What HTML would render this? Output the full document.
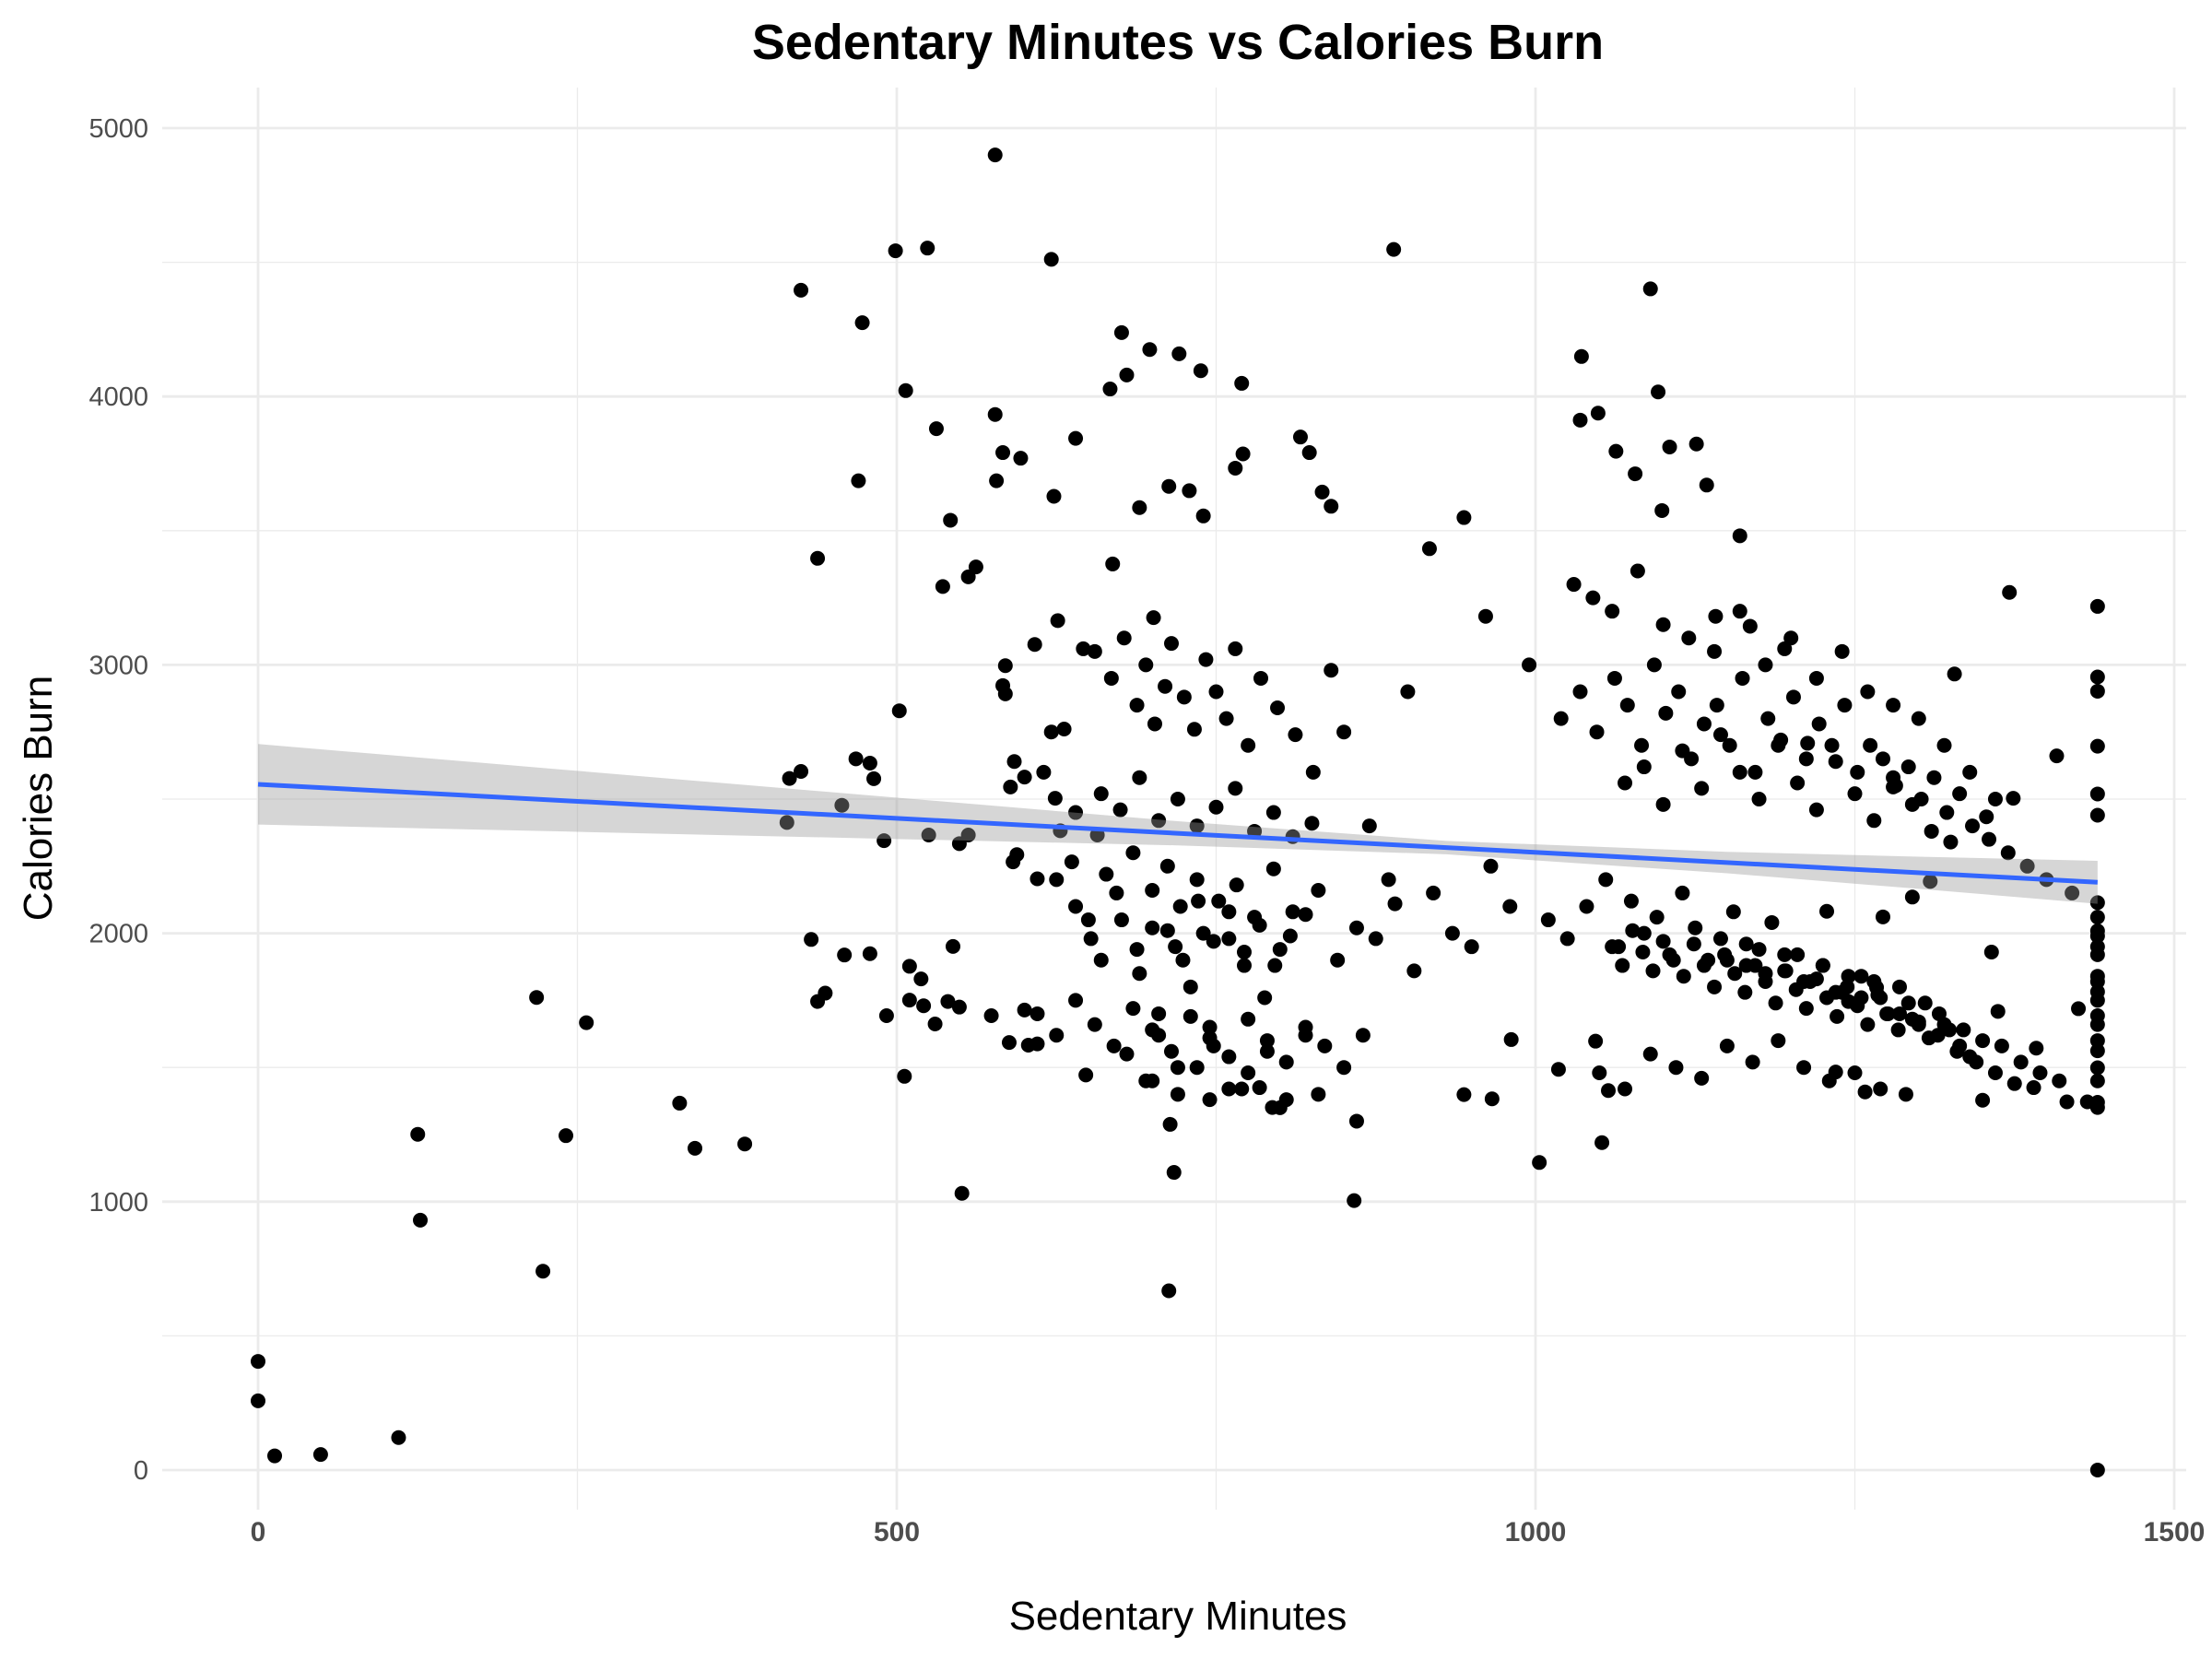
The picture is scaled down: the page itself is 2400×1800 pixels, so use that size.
<!DOCTYPE html>
<html><head><meta charset="utf-8">
<style>
html,body{margin:0;padding:0;background:#fff;}
svg{display:block;font-family:"Liberation Sans",sans-serif;}
</style></head>
<body>
<svg id="chart" width="2400" height="1800" viewBox="0 0 2400 1800">
<rect width="2400" height="1800" fill="#fff"/>
<g id="grid"></g>
<g id="pts"></g>
<g id="band"></g>
<g id="fit"></g>
<g id="ticks"></g>
<text x="1278" y="64" text-anchor="middle" font-size="54" font-weight="bold" fill="#000">Sedentary Minutes vs Calories Burn</text>
<text x="1278" y="1768" text-anchor="middle" font-size="44" fill="#000">Sedentary Minutes</text>
<text transform="translate(56,866) rotate(-90)" text-anchor="middle" font-size="44" fill="#000">Calories Burn</text>
</svg>
<script>
const xTicks=[0,500,1000,1500];
const xMinor=[250,750,1250];
const yTicks=[0,1000,2000,3000,4000,5000];
const yMinor=[500,1500,2500,3500,4500];
const fitX=[0,1440];
const fitY=[2555,2190];
const bandX=[0,240,480,720,930,1150,1300,1440];
const bandHalf=[150,115,80,45,25,40,60,80];
const sedentary=[0,0,13,49,110,125,127,218,223,241,257,330,342,381,414,416,425,425,433,438,438,444,457,459,470,473,468,479,479,482,490,492,499,502,507,506,510,510,519,521,524,525,530,531,536,540,542,544,549,549,551,556,556,562,574,577,577,578,583,583,585,585,588,589,591,594,592,597,600,600,603,608,610,610,621,623,621,624,626,628,631,637,640,646,648,657,669,676,680,667,690,698,701,721,738,740,729,713,770,771,765,717,713,714,784,794,816,823,833,840,858,889,917,944,961,1003,1052,1057,1047,1018,981,966,944,1036,1049,1035,1090,1096,1134,1126,1105,1063,1078,1099,1160,1371,1440,1440,1440,1440,1440,1440,1440,1440,1440,1440,1440,1440,1440,1440,1440,1432,1425,1416,1408,1392,1390,1374,1362,1357,1353,1350,1328,1309,1295,1280,1272,1267,1245,1258,1235,1228,1213,1195,1168,1141,
650,660,672,685,690,700,705,712,718,722,730,735,740,745,752,760,766,772,780,788,795,800,810,820,830,845,860,875,890,905,
655,668,678,688,695,702,710,715,725,733,742,750,758,765,775,785,798,812,826,840,
680,695,705,720,735,748,760,775,790,805,
1010,1025,1040,1055,1065,1075,1085,1095,1105,1115,1125,1135,1145,1155,1165,1175,1185,1195,1205,1215,1225,1235,1245,1255,1265,1275,1285,1295,1305,1320,1335,1350,1365,1380,1395,1410,
1020,1035,1048,1062,1072,1083,1093,1102,1112,1122,1132,1142,1152,1162,1172,1182,1192,1202,1212,1222,1232,1242,1252,1262,1272,1282,1292,1302,1312,1322,1332,1342,1355,1370,1385,1400,1420,
1030,1045,1060,1080,1100,1120,1140,1160,1180,1200,1220,1240,1260,1280,1300,1320,1340,1360,
1050,1070,1090,1110,1130,1150,1170,1190,1210,1230,1250,1270,1290,
920,935,950,965,980,995,870,885,900,850,
700,720,745,770,800,830,860,640,625,615,
1440,1440,1440,1440,1440,1440,1440,1440,1440,1440,
1060,1068,1076,1084,1092,1100,1108,1116,1124,1132,1140,1148,1156,1164,1172,1180,1188,1196,1204,1212,1220,1228,1236,1244,1252,1260,1268,1276,1284,1292,1300,1308,1316,1324,1332,1340,
1070,1085,1100,1115,1130,1145,1160,1175,1190,1205,1220,1235,1250,1265,1280,1295,1310,1325,
1150,1165,1180,1195,1210,1225,1240,1255,1270,1285,1300,1315,1330,1345,1360,1375,
640,652,664,676,688,700,712,724,736,748,760,772,784,796,808,820,
660,675,690,705,720,735,750,765,780,795,810,825,
610,625,640,655,670,685,700,715,730,745,760,775,790,805,820,835,850,865];
const calories=[405,258,53,58,121,1251,931,1761,741,1246,1667,1367,1199,1215,2413,2577,2603,4396,1977,1746,3397,1777,2477,1919,3686,4275,2650,2634,1924,2576,2345,1693,4543,2829,4022,1467,1877,1751,1830,1730,4553,2366,1662,3880,3292,1746,3539,1951,2334,1725,1031,3328,2366,3365,1693,4900,3933,3686,3791,2923,2997,2892,1593,2545,2266,2293,2640,3770,2582,1714,1583,3076,2203,1588,4511,3628,2750,2503,3165,2382,2761,2266,3844,3060,1472,2366,3376,4238,4080,4028,3586,4175,3176,4159,4096,3555,3649,3665,4049,3786,3733,1109,668,1288,1425,1351,3849,3791,3644,3591,1004,4548,3433,3549,3181,1146,1220,1414,1598,1493,1604,1383,1399,4149,3938,3912,4401,4017,3670,3823,3812,3796,3712,3575,3481,3270,3218,2955,2902,2697,2519,2440,2114,2009,1840,1782,1693,1562,1499,1351,0,1372,1719,1372,2661,1572,1425,2503,1709,1930,2434,1378,2966,2193,2135,2545,2061,1798,1746,1409,1483,2082,2708,3060,3144,3181,
2050,1900,2150,2300,1850,2020,1700,2250,1950,2100,1800,2200,2000,1650,2120,1980,2180,1880,2060,1760,2240,1940,2080,1620,2160,1900,2020,1980,2110,1860,
3050,2950,3100,2850,3000,2780,2920,3080,2880,2760,3020,2900,2800,3060,2700,2950,2840,2740,2600,2980,
1550,1450,1620,1400,1500,1580,1420,1480,1560,1380,
2050,1980,2100,2200,1950,2120,2000,2060,1920,2150,2020,1900,1980,2080,1880,1940,2040,1860,1920,1820,1880,1780,1840,1760,1820,1700,1800,1680,1740,1660,1640,1600,1580,1520,1480,1450,
2800,2900,2750,2950,2850,2700,3000,2820,2900,2650,2780,2850,2700,2950,2600,2800,2720,2880,2650,2780,2700,2850,2600,2700,2650,2550,2620,2500,2580,2450,2520,2400,2350,2300,2250,2200,2150,
3300,3250,3200,3350,3150,3100,3050,3200,3000,3100,2950,3050,2900,2850,2800,2700,2600,2500,
1480,1420,1550,1500,1460,1580,1520,1600,1500,1450,1480,1420,1400,
2150,2000,1950,2250,2100,3000,2400,2200,2900,2750,
1450,1500,1380,1420,1350,1400,1300,2450,2200,2600,
2060,1950,1990,1920,1820,1750,1660,1600,1450,1370,
1950,1880,2010,1930,1860,1970,1900,1840,1960,1880,1800,1920,1850,1780,1880,1820,1740,1860,1790,1720,1830,1760,1690,1800,1730,1660,1770,1700,1640,1740,1670,1610,1700,1640,1580,1540,
2560,2620,2480,2680,2540,2740,2600,2500,2700,2560,2460,2640,2520,2420,2580,2480,2380,2340,
1900,1960,1850,1920,1820,1880,1780,1840,1760,1700,1660,1620,1560,1520,1480,1440,
2100,1980,2220,2050,1940,2160,2010,1900,2120,1970,2080,1930,2030,1880,1990,2070,
2520,2460,2580,2420,2500,2400,2470,2540,2380,2450,2360,2410,
1700,1620,1750,1660,1580,1720,1640,1560,1690,1610,1540,1680,1600,1520,1650,1580,1500,1620];

const NS='http://www.w3.org/2000/svg';
function xs(v){return 280+v*2079/1500;}
function ys(v){return 1595-v*1456/5000;}
const L=176,R=2372,T=95,B=1638;
function mk(tag,attrs,parent){const e=document.createElementNS(NS,tag);for(const k in attrs)e.setAttribute(k,attrs[k]);parent.appendChild(e);return e;}
const grid=document.getElementById('grid');
for(const v of xMinor){const l=mk('line',{x1:xs(v),x2:xs(v),y1:T,y2:B,stroke:'#ebebeb','stroke-width':1.3},grid);

}
for(const v of yMinor){const l=mk('line',{x1:L,x2:R,y1:ys(v),y2:ys(v),stroke:'#ebebeb','stroke-width':1.3},grid);

}
for(const v of xTicks){const l=mk('line',{x1:xs(v),x2:xs(v),y1:T,y2:B,stroke:'#ebebeb','stroke-width':2.8},grid);

}
for(const v of yTicks){const l=mk('line',{x1:L,x2:R,y1:ys(v),y2:ys(v),stroke:'#ebebeb','stroke-width':2.8},grid);

}
const ticks=document.getElementById('ticks');
for(const v of xTicks){const t=mk('text',{x:xs(v),y:1672,'text-anchor':'middle','font-size':30,'font-weight':'bold',fill:'#4d4d4d'},ticks);t.textContent=v;

}
for(const v of yTicks){const t=mk('text',{x:161,y:ys(v)+10,'text-anchor':'end','font-size':29,fill:'#4d4d4d'},ticks);t.textContent=v;

}
const pts=document.getElementById('pts');
for(let i=0;i<sedentary.length;i++){const c=mk('circle',{cx:xs(sedentary[i]),cy:ys(calories[i]),r:8,fill:'#000'},pts);

}
function fitAt(x){return fitY[0]+(fitY[1]-fitY[0])*(x-fitX[0])/(fitX[1]-fitX[0]);}
const up=[],lo=[];
for(let k=0;k<bandX.length;k++){const x=bandX[k];const y=fitAt(x);up.push(xs(x)+','+ys(y+bandHalf[k]));lo.unshift(xs(x)+','+ys(y-bandHalf[k]));}
const band=mk('polygon',{points:up.concat(lo).join(' '),fill:'#999','fill-opacity':0.4},document.getElementById('band'));


const fl=mk('line',{x1:xs(fitX[0]),y1:ys(fitY[0]),x2:xs(fitX[1]),y2:ys(fitY[1]),stroke:'#3366ff','stroke-width':5},document.getElementById('fit'));


</script>
</body></html>
